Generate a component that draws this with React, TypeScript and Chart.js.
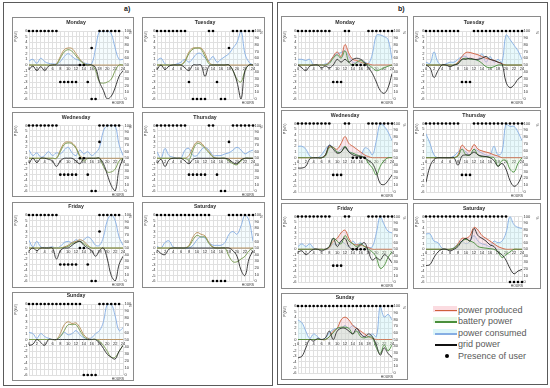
import React, { useEffect, useRef } from "react";
import { Chart, registerables } from "chart.js";
Chart.register(...registerables);

const FONT = '"Liberation Sans", Arial, sans-serif';
const HOURS = [0, 1, 2, 3, 4, 5, 6, 7, 8, 9, 10, 11, 12, 13, 14, 15, 16, 17, 18, 19, 20, 21, 22, 23, 24];
const X_LABEL_STEP = 2;
const P_TITLE = "P (kW)";
const SOC_TITLE = "%";
const LEGEND_LABELS = ["power produced", "battery power", "power consumed", "grid power", "Presence of user"];

// ---------- a) ----------
const A_MON_PROD = [0,0,0,0,0,0,0,0.2,1.5,2.7,3,2.9,2,1,0.3,0,0,0,0,0,0,0,0,0,0];
const A_MON_BATT = [0,0,0,0,0,0,0,0.1,1.2,2.3,2.7,2.4,1.6,0.8,0.2,0,0,-1,-3,-3.2,-3,-2.5,-1,0,0];
const A_MON_CONS = [0.7,1,0.3,1.2,0.6,0.3,0.2,0.2,0.6,1.5,2,1.5,1,0.8,0.4,0.2,0.2,3,6,6,6,5.5,3,1,1];
const A_MON_GRID = [-0.8,-0.2,-1,-0.3,-1,-0.2,0,0,0,0,0,0,0,0,0,0,0,-0.5,-3,-4.5,-6,-5.5,-4,-2,-1];
const A_MON_PRES = [0,1,2,3,4,5,6,7,18,19,20,21,22,23];
const A_MON_DOTS = [[16,3],[13,0],[14,0],[8,-3],[9,-3],[10,-3],[11,-3],[12,-3],[15,-3],[16,-6],[17,-6]];

const A_TUE_PROD = [0,0,0,0,0,0,0,0.8,2.3,3,3,3,2,0.5,0,0,0,0,0,0,0,0,0,0,0];
const A_TUE_BATT = [0,0,0,0,0,0,0,0.6,2,2.8,3,2.8,1.5,0.2,0,0,0,0,0,-1,-2.5,-3,-1,0,0];
const A_TUE_CONS = [0.8,1.2,0.2,0,0,0.2,0.5,1,0.5,1.2,2,2,1.2,0.8,1.5,0.5,1,1.5,2,3,4,6,2,0.5,0];
const A_TUE_GRID = [-0.8,0,-0.8,-0.2,0,0,0,-0.5,-1,0,0,0,-2,-0.2,0,0,0,0,0,-1,-3,-6,-1,0,0];
const A_TUE_PRES = [0,1,2,3,4,5,6,7,13,14,19,20,21,22,23,24];
const A_TUE_DOTS = [[18,3],[8,-3],[15,-3],[9,-6],[10,-6],[11,-6],[12,-6],[16,-6],[17,-6]];

const A_WED_PROD = [0,0,0,0,0,0,0,0,1.5,2.8,3,2.8,2,0.5,0,0,0,0,0,0,0,0,0,0,0];
const A_WED_BATT = [0,0,0,0,0,0,0,0,1.2,2.5,2.8,2.6,1.8,0.3,-0.5,0,0,0,0,-1.5,-2.5,-2.5,-2,-0.5,0];
const A_WED_CONS = [1.5,0.5,1,0.2,0.5,1.2,0.5,1,0.8,1.5,2,1,0.5,1.5,0.8,1.2,0.5,1,2,5,6,6,6,2.5,0.5];
const A_WED_GRID = [-1,0,-0.8,0,0,-0.2,-0.5,-1.5,-0.5,0,0,0,-0.5,-1,0,0,0,0,0,-1,-3,-5,-6,-2,0];
const A_WED_PRES = [0,1,2,3,4,5,6,7,18,19,20,21,22,23];
const A_WED_DOTS = [[18,3],[13,0],[14,0],[8,-3],[9,-3],[10,-3],[11,-3],[12,-3],[15,-3],[16,-6],[17,-6]];

const A_THU_PROD = [0,0,0,0,0,0,0,0,0.5,2,3,2.8,2,1.2,0.3,0,0,0,0,0,0,0,0,0,0];
const A_THU_BATT = [0,0,0,0,0,0,0,0,-0.3,1.5,2.7,2.5,1.8,1,0.2,0,0,0,-0.5,-1,-1.2,-0.5,0,0,0];
const A_THU_CONS = [1.2,0,1.8,0.5,0.2,0,0,1.5,1.8,0.5,0.5,1.5,2,1.5,0.5,0.5,0.5,0.8,1,1.5,2,1.5,0.8,1.2,1.5];
const A_THU_GRID = [-1,-0.2,-1.5,-0.3,0,0,0,-0.5,-1,-0.2,0,0,0,0,0,0,0,0,-0.2,-0.8,-1,-0.3,0,0,0];
const A_THU_PRES = [0,1,2,3,4,5,6,7,13,14,19,20,21,22,23,24];
const A_THU_DOTS = [[18,3],[8,-3],[9,-3],[10,-3],[11,-3],[12,-3],[15,-3],[16,-6],[17,-6]];

const A_FRI_PROD = [0,0,0,0,0,0,0,0,0,0.2,0.5,1,1.2,1.5,1.2,0.5,0,0,0,0,0,0,0,0,0];
const A_FRI_BATT = [0,0,0,0,0,0,0,0,0,0.1,0.3,0.8,1,1.2,0.8,0.3,0,0,0,0,0,0,0,0,0];
const A_FRI_CONS = [1.4,0.2,1.2,0.2,0.1,0.1,0.2,0,0.3,1,1.2,1,1.5,1.2,1.5,2,1.5,0.5,0.5,2,5,6,5,2,0.5];
const A_FRI_GRID = [-0.5,0,-0.5,0,0,0,0,-2,-0.5,0,0,0.5,1,1.2,0.5,0,-0.5,-1.5,-0.5,0,-2,-5,-6,-3,-1.5];
const A_FRI_PRES = [0,1,2,3,4,5,6,7,18,19,20,21,22,23];
const A_FRI_DOTS = [[18,3],[13,0],[14,0],[8,-3],[9,-3],[10,-3],[11,-3],[12,-3],[15,-3],[16,-6],[17,-6]];

const A_SAT_PROD = [0,0,0,0,0,0,0,0,0.5,2,2.8,2.5,2.2,1,0.2,0,0,0,0,0,0,0,0,0,0];
const A_SAT_BATT = [0,0,0,0,0,0,0,0,0.3,1.5,2.3,2,2,0.8,0.1,0,0,0,-1.5,-2.5,-2.5,-2,-1.5,-0.5,0];
const A_SAT_CONS = [0.3,0,1,1.3,0.2,0,0,0,0,0.5,1.5,2,1.8,1,0.5,0.5,0.5,1,2.5,3,2.5,4,6,5,1.2];
const A_SAT_GRID = [-0.3,-1,-1.2,-0.2,0,0,0,0,0,0,0,0,0,0,0,0,0,0,0,-0.5,-1.5,-4,-5,-2,-0.5];
const A_SAT_PRES = [0,1,2,3,4,5,6,7,8,9,10,11,12,13,18,19,20,21,22,23,24];
const A_SAT_DOTS = [[14,-6],[15,-6],[16,-6],[17,-6]];

const A_SUN_PROD = [0,0,0,0,0,0,0,0,1,2.5,3,2.7,2.8,2,0.8,0.2,0,0,0,0,0,0,0,0,0];
const A_SUN_BATT = [0,0,0,0,0,0,0,0,0.5,1.5,2.5,2.5,2.5,1.5,0.5,0,0,0,-0.3,-1,-2,-3,-3,-2,-1];
const A_SUN_CONS = [1.2,1,0.2,1,0.5,0.2,0,0,0.5,1.2,0.8,1,1.5,0.8,0.3,0.2,0.3,1,1.5,3,6,6,4,1.5,2];
const A_SUN_GRID = [-1,-0.8,0,-0.5,-1,0,0,0,0,0,0,0,0,0,0,0,0,0,-0.6,-1.5,-2.5,-3,-3.3,-2,-1];
const A_SUN_PRES = [0,1,2,3,4,5,6,7,8,9,10,11,12,13,18,19,20,21,22,23];
const A_SUN_DOTS = [[14,-6],[15,-6],[16,-6],[17,-6]];

// ---------- b) ----------
const B_MON_PROD = [0,0,0,0,0,0,0,0,0.5,1.5,2.3,1.5,3.6,2,1,0.8,0.5,0.3,0.2,0,0,0,0,0,0];
const B_MON_BATT = [0,0,0,0,0,0,0,0,0.3,1.2,1.8,1.2,2.5,0.5,0,0.5,0.8,0.3,0,-0.5,-1,-0.8,-0.5,-0.2,0];
const B_MON_CONS = [1,1,0.8,1,0,0,0,0.2,0.5,1.5,2,2.2,2.5,1.5,0.5,0.5,0.3,0.5,0.3,2,5.2,5.3,5,4.5,1];
const B_MON_GRID = [0,-0.5,-1,-0.2,0,0,-0.5,-0.2,-0.5,0,1,0.5,1,0.5,1,1.2,1,0.5,-0.5,-1.5,-3,-4.5,-5,-4,-1.5];
const B_MON_PRES = [0,1,2,3,4,5,6,7,8,12,13,18,19,20,21,22,23,24];
const B_MON_DOTS = [[14,0],[15,0],[16,0],[17,0],[9,-3],[10,-3],[11,-3]];

const B_TUE_PROD = [0,0,0,0,0,0,0,0,0.5,1.5,2.2,2.2,2,1.8,1.5,1.2,1,0.8,0.5,0.2,0,0,0,0,0];
const B_TUE_BATT = [0,0,0,0,0,0,0,0,0.3,1,1.2,1,1,0.8,0.3,-0.3,-0.5,-0.3,0,0,0,0,0,0,0];
const B_TUE_CONS = [0.5,0.3,2.3,0.5,0,0.2,0.5,0.5,1,1.5,1.5,1,1,0.8,2,0.5,1.5,0.5,1,0.5,5.3,4.5,3.5,2.5,1];
const B_TUE_GRID = [0,-0.5,-2.2,-1,0,0,-0.3,0,0.2,1,1,1.2,1,1,1.2,1.5,1,0.8,0.5,0.2,-3,-4,-3.5,-2.5,-2];
const B_TUE_PRES = [0,1,2,3,4,5,6,7,8,12,13,14,15,16,17,18,19,20,21,22,23,24];
const B_TUE_DOTS = [[9,-3],[10,-3],[11,-3]];

const B_WED_PROD = [0,0,0,0,0,0,0,0.5,2,1.8,1.5,2.5,3.7,2.5,2,1.5,1,0.5,0.2,0,0,0,0,0,0];
const B_WED_BATT = [0,0,0,0,0,0,0,0.3,1.8,1.8,1,1,2,1,0.8,0.5,0.3,0,-1,-1.8,-3,-1.5,-0.5,0,0];
const B_WED_CONS = [2,2,1.5,0.3,0,0,0.5,1.5,2.2,1.8,1,1.5,2,1.2,0.8,0.5,0.3,1.7,1.5,0.5,3,6,5.5,4.5,3];
const B_WED_GRID = [-1.8,-1.8,-1.5,-0.2,0,0,0,0.5,2.2,1.5,0.8,1,1.8,1,0.5,0.3,0.2,0,-0.5,-1,-2.5,-4.5,-4.7,-4,-3];
const B_WED_PRES = [0,1,2,3,4,5,6,7,8,12,13,18,19,20,21,22,23,24];
const B_WED_DOTS = [[14,0],[15,0],[16,0],[17,0],[9,-3],[10,-3],[11,-3]];

const B_THU_PROD = [0,0,0,0,0,0,0,0,0.5,2.2,1.5,1.2,2.3,1.5,1.2,1,0.8,0.5,0.3,0,0,0,0,0,0];
const B_THU_BATT = [0,0,0,0,0,0,0,0,0.3,1.5,0.5,0.5,1.5,0.5,0.2,0.2,0.1,0,-1.5,-0.5,-0.5,-2,-2.5,-1,0];
const B_THU_CONS = [4.2,2.5,0.5,0,0,0,0,0.3,1,1.5,1,0.5,1.5,1.2,0.8,0.5,0.5,2,0.5,1,6,5.5,5.5,4.5,3];
const B_THU_GRID = [-4.3,-1.5,-0.3,0,0,0,0,0,-1.3,0.3,0.5,0.5,1,0.5,0.3,0.2,0,-0.5,-1.5,-1,-2,-4,-5,-4.5,-3];
const B_THU_PRES = [0,1,2,3,4,5,6,7,8,12,13,14,15,16,17,18,19,20,21,22,23,24];
const B_THU_DOTS = [[9,-3],[10,-3],[11,-3]];

const B_FRI_PROD = [0,0,0,0,0,0,0,0,0.3,1.5,2,3,3.5,2,1,0.8,0.8,0.5,0.3,0,0,0,0,0,0];
const B_FRI_BATT = [0,0,0,0,0,0,0,0,0.5,2,1.5,1,2.5,1.5,1,0.5,1,0.5,0,-0.5,-1.5,-3.5,-3,-1.5,-0.5];
const B_FRI_CONS = [0.5,1,0.5,1,0.2,0,0,0,0.2,1,0.8,1.5,1,0.5,1.5,0.8,1.2,0.5,0.3,0.5,3,6,4.5,3.3,3];
const B_FRI_GRID = [-0.5,-0.3,-1,-0.5,0,0,-0.3,0,0.5,2,0.5,1.5,2,0.5,0,0.2,0.8,1.2,-0.5,-2,-1.5,-2,-1,-1.5,-2.5];
const B_FRI_PRES = [0,1,2,3,4,5,6,7,8,12,13,18,19,20,21,22,23,24];
const B_FRI_DOTS = [[14,0],[15,0],[16,0],[17,0],[9,-3],[10,-3],[11,-3]];

const B_SAT_PROD = [0,0,0,0,0,0,0,0.2,1,2,2,2.5,4,3.5,2.5,2,1.5,1,0.5,0.2,0,0,0,0,0];
const B_SAT_BATT = [0,0,0,0,0,0,0,0.2,0.8,1.5,1.8,1.5,1.2,0.5,0.3,0.2,0.1,0,-0.5,-1.5,-1,-0.5,0,0,0];
const B_SAT_CONS = [2.8,2.8,1.5,1.2,0.2,0,0,0.3,1,1.5,1,1.5,2.5,1.5,1,0.8,0.5,1.5,1.2,1.5,3,6,4.5,4,3.8];
const B_SAT_GRID = [-3,-2.8,-1.5,-0.5,0,0,-0.3,0,0.5,1.5,2,1.5,3.8,2.5,2,1.5,0.8,0.5,-0.5,-1,-2,-3.5,-4.5,-4,-3.7];
const B_SAT_PRES = [0,1,2,3,4,5,6,7,8,9,10,11,12,13,14,15,16,17,18,19,20];
const B_SAT_DOTS = [[21,-6],[22,-6],[23,-6],[24,-6]];

const B_SUN_PROD = [0,0,0,0,0,0,0,0,0.5,1.5,2,3.5,4,3.5,2.5,2,1.5,1,0.5,0.2,0,0,0,0,0];
const B_SUN_BATT = [0,0,0,0,0,0,0,0,0.5,1.2,2,2.2,2.2,2,1,1.5,0.5,0.3,0.5,0.3,-1.5,-2.5,-1,-2,-1];
const B_SUN_CONS = [3.5,3,1.5,0.2,1,0.5,0,0.3,1.2,1.8,2,2,2.5,2,2.5,2,1,0.5,0.5,1,0.5,6,4,4.5,3.5];
const B_SUN_GRID = [-3.3,-3,-1.5,0,-0.3,0.2,0,0.3,1.5,0,1.5,2,2,1.5,1,2,1,0.5,1,0.5,-1,-2.8,-1.5,-2.5,-3.2];
const B_SUN_PRES = [0,1,2,3,4,5,6,7,8,9,10,11,12,13,14,15,16,17,18,19,20,21,22,23,24];
const B_SUN_DOTS: number[][] = [];

// ---------- styles / layout ----------
const COLORS = {
  prodA: "#b58d55",
  battA: "#74994c",
  prodB: "#cf5f3c",
  battB: "#4a8f3c",
  cons: "#86aee3",
  grid: "#2a2a2a",
  prodFill: "rgba(247,185,195,0.32)",
  battFill: "rgba(200,240,200,0.25)",
  consFill: "rgba(185,236,246,0.32)",
  consFillA: "rgba(190,238,246,0.16)",
  gridLine: "#e0e0e0",
};

const A_COLS = [{ x: 12, w: 122, px0: 29, px1: 123 }, { x: 142, w: 123, px0: 157, px1: 253 }];
const A_ROWS = [
  { y: 17, h: 91, py0: 31, py1: 99 },
  { y: 112, h: 85, py0: 125.5, py1: 191 },
  { y: 202, h: 86, py0: 215, py1: 281 },
  { y: 292, h: 89, py0: 304, py1: 375 },
];
const B_COLS = [{ x: 281, w: 127, px0: 298, px1: 392 }, { x: 413, w: 128, px0: 426, px1: 522 }];
const B_ROWS = [
  { y: 16, h: 92, py0: 31, py1: 99 },
  { y: 110, h: 90, py0: 123.5, py1: 192 },
  { y: 203, h: 86, py0: 216.5, py1: 282 },
  { y: 293, h: 87, py0: 306, py1: 373 },
];

type Spec = {
  id: string; title: string; panel: "a" | "b";
  prod: number[]; batt: number[]; cons: number[]; grid: number[]; pres: number[]; dots: number[][];
  col: { x: number; w: number; px0: number; px1: number };
  row: { y: number; h: number; py0: number; py1: number };
};

const SPECS: Spec[] = [
  { id: "am", title: "Monday", panel: "a", prod: A_MON_PROD, batt: A_MON_BATT, cons: A_MON_CONS, grid: A_MON_GRID, pres: A_MON_PRES, dots: A_MON_DOTS, col: A_COLS[0], row: A_ROWS[0] },
  { id: "at", title: "Tuesday", panel: "a", prod: A_TUE_PROD, batt: A_TUE_BATT, cons: A_TUE_CONS, grid: A_TUE_GRID, pres: A_TUE_PRES, dots: A_TUE_DOTS, col: A_COLS[1], row: A_ROWS[0] },
  { id: "aw", title: "Wednesday", panel: "a", prod: A_WED_PROD, batt: A_WED_BATT, cons: A_WED_CONS, grid: A_WED_GRID, pres: A_WED_PRES, dots: A_WED_DOTS, col: A_COLS[0], row: A_ROWS[1] },
  { id: "ah", title: "Thursday", panel: "a", prod: A_THU_PROD, batt: A_THU_BATT, cons: A_THU_CONS, grid: A_THU_GRID, pres: A_THU_PRES, dots: A_THU_DOTS, col: A_COLS[1], row: A_ROWS[1] },
  { id: "af", title: "Friday", panel: "a", prod: A_FRI_PROD, batt: A_FRI_BATT, cons: A_FRI_CONS, grid: A_FRI_GRID, pres: A_FRI_PRES, dots: A_FRI_DOTS, col: A_COLS[0], row: A_ROWS[2] },
  { id: "as", title: "Saturday", panel: "a", prod: A_SAT_PROD, batt: A_SAT_BATT, cons: A_SAT_CONS, grid: A_SAT_GRID, pres: A_SAT_PRES, dots: A_SAT_DOTS, col: A_COLS[1], row: A_ROWS[2] },
  { id: "au", title: "Sunday", panel: "a", prod: A_SUN_PROD, batt: A_SUN_BATT, cons: A_SUN_CONS, grid: A_SUN_GRID, pres: A_SUN_PRES, dots: A_SUN_DOTS, col: A_COLS[0], row: A_ROWS[3] },
  { id: "bm", title: "Monday", panel: "b", prod: B_MON_PROD, batt: B_MON_BATT, cons: B_MON_CONS, grid: B_MON_GRID, pres: B_MON_PRES, dots: B_MON_DOTS, col: B_COLS[0], row: B_ROWS[0] },
  { id: "bt", title: "Tuesday", panel: "b", prod: B_TUE_PROD, batt: B_TUE_BATT, cons: B_TUE_CONS, grid: B_TUE_GRID, pres: B_TUE_PRES, dots: B_TUE_DOTS, col: B_COLS[1], row: B_ROWS[0] },
  { id: "bw", title: "Wednesday", panel: "b", prod: B_WED_PROD, batt: B_WED_BATT, cons: B_WED_CONS, grid: B_WED_GRID, pres: B_WED_PRES, dots: B_WED_DOTS, col: B_COLS[0], row: B_ROWS[1] },
  { id: "bh", title: "Thursday", panel: "b", prod: B_THU_PROD, batt: B_THU_BATT, cons: B_THU_CONS, grid: B_THU_GRID, pres: B_THU_PRES, dots: B_THU_DOTS, col: B_COLS[1], row: B_ROWS[1] },
  { id: "bf", title: "Friday", panel: "b", prod: B_FRI_PROD, batt: B_FRI_BATT, cons: B_FRI_CONS, grid: B_FRI_GRID, pres: B_FRI_PRES, dots: B_FRI_DOTS, col: B_COLS[0], row: B_ROWS[2] },
  { id: "bs", title: "Saturday", panel: "b", prod: B_SAT_PROD, batt: B_SAT_BATT, cons: B_SAT_CONS, grid: B_SAT_GRID, pres: B_SAT_PRES, dots: B_SAT_DOTS, col: B_COLS[1], row: B_ROWS[2] },
  { id: "bu", title: "Sunday", panel: "b", prod: B_SUN_PROD, batt: B_SUN_BATT, cons: B_SUN_CONS, grid: B_SUN_GRID, pres: B_SUN_PRES, dots: B_SUN_DOTS, col: B_COLS[0], row: B_ROWS[3] },
];

const decorPlugin = {
  id: "decor",
  afterDraw(chart: any, _args: any, opts: any) {
    const { ctx, chartArea } = chart;
    ctx.save();
    ctx.fillStyle = "#2b2b2b";
    ctx.font = `bold 5.2px ${FONT}`;
    ctx.textAlign = "center";
    ctx.textBaseline = "middle";
    ctx.fillText(opts.title, (chartArea.left + chartArea.right) / 2, chartArea.top - 8);
    ctx.font = `3.4px ${FONT}`;
    ctx.fillStyle = "#333";
    ctx.textAlign = "right";
    ctx.fillText("HOURS", chartArea.right + 1, chartArea.bottom + 4.5);
    ctx.restore();
  },
};

function DayChart({ spec }: { spec: Spec }) {
  const ref = useRef<HTMLCanvasElement>(null);
  const { col, row } = spec;
  const cx = col.x + 1, cy = row.y + 1;
  const cw = col.w - 2, ch = row.h - 2;
  useEffect(() => {
    const padL = 1, padR = 1;
    const inL = col.px0 - cx;
    const inR = cx + cw - col.px1;
    const inT = row.py0 - cy;
    const inB = cy + ch - row.py1;
    const pts = (vals: number[]) => HOURS.map((h, i) => ({ x: h, y: vals[i] }));
    const isB = spec.panel === "b";
    const tick = { size: 4, family: FONT };
    const datasets: any[] = [
      { type: "scatter", data: spec.pres.map((h) => ({ x: h, y: 6 })), pointRadius: 1.35, backgroundColor: "#000", borderWidth: 0, clip: false, order: 0 },
      { type: "scatter", data: spec.dots.map((d) => ({ x: d[0], y: d[1] })), pointRadius: 1.35, backgroundColor: "#000", borderWidth: 0, clip: false, order: 0 },
      { data: pts(spec.grid), borderColor: COLORS.grid, borderWidth: 0.9, fill: false, order: 1 },
      { data: pts(spec.batt), borderColor: isB ? COLORS.battB : COLORS.battA, backgroundColor: COLORS.battFill, fill: isB ? "origin" : false, borderWidth: 0.9, order: 2 },
      { data: pts(spec.prod), borderColor: isB ? COLORS.prodB : COLORS.prodA, backgroundColor: COLORS.prodFill, fill: isB ? "origin" : false, borderWidth: 0.9, order: 3 },
      { data: pts(spec.cons), borderColor: COLORS.cons, backgroundColor: isB ? COLORS.consFill : COLORS.consFillA, fill: "origin", borderWidth: 0.9, order: 4 },
    ];
    const chart = new Chart(ref.current as HTMLCanvasElement, {
      type: "line",
      data: { datasets },
      options: {
        responsive: false,
        animation: false,
        devicePixelRatio: 1,
        layout: { padding: { left: padL, right: padR, top: inT, bottom: inB } },
        elements: { point: { radius: 0 }, line: { borderWidth: 1, tension: 0.4 } },
        plugins: { legend: { display: false }, tooltip: { enabled: false }, decor: { title: spec.title } } as any,
        scales: {
          x: {
            type: "linear", min: 0, max: 24, position: { y: 0 } as any,
            ticks: { stepSize: 1, maxTicksLimit: 30, autoSkip: false, maxRotation: 0, padding: 1.5, font: tick, color: "#333",
              callback: (v: any) => (Number(v) % X_LABEL_STEP === 0 ? String(v) : "") },
            grid: { color: COLORS.gridLine, drawTicks: false },
            border: { display: true, color: "#c4c4c4" },
          },
          y: {
            type: "linear", position: "left", min: -6, max: 6,
            afterFit: (s: any) => { s.width = inL - padL; },
            ticks: { stepSize: 1, autoSkip: false, padding: 1.5, font: tick, color: "#333" },
            grid: { color: COLORS.gridLine, drawTicks: false },
            border: { display: false },
            title: { display: true, text: P_TITLE, align: "end", padding: 0, font: { size: 3.5, family: FONT }, color: "#333" },
          },
          y2: {
            type: "linear", position: "right", min: 0, max: 100,
            afterFit: (s: any) => { s.width = inR - padR; },
            ticks: { stepSize: 10, autoSkip: false, padding: 1.5, font: tick, color: "#333" },
            grid: { drawOnChartArea: false, drawTicks: false },
            border: { display: false },
            title: { display: true, text: SOC_TITLE, align: "end", padding: 0, font: { size: 3.5, family: FONT }, color: "#333" },
          },
        },
      } as any,
      plugins: [decorPlugin as any],
    });
    return () => chart.destroy();
  }, []);
  return (
    <>
      <div style={{ position: "absolute", left: col.x, top: row.y, width: col.w, height: row.h, border: "1px solid #8a8a8a", boxSizing: "border-box", background: "#fff" }} />
      <canvas ref={ref} width={cw} height={ch} style={{ position: "absolute", left: cx, top: cy, width: cw, height: ch }} />
    </>
  );
}

function Legend() {
  const rows = [
    { label: LEGEND_LABELS[0], color: COLORS.prodB, fill: "rgba(247,185,195,0.5)", y: 309.5 },
    { label: LEGEND_LABELS[1], color: COLORS.battB, fill: "rgba(200,240,200,0.45)", y: 321.2 },
    { label: LEGEND_LABELS[2], color: COLORS.cons, fill: "rgba(185,236,246,0.5)", y: 333 },
    { label: LEGEND_LABELS[3], color: "#111", fill: "transparent", y: 344 },
  ];
  const text = { position: "absolute" as const, left: 458, fontSize: 9, fontFamily: FONT, color: "#5a5a5a", lineHeight: "10px", whiteSpace: "nowrap" as const };
  return (
    <>
      {rows.map((r) => (
        <React.Fragment key={r.label}>
          <div style={{ position: "absolute", left: 433, top: r.y - 4, width: 24, height: 6, background: r.fill }} />
          <div style={{ position: "absolute", left: 435, top: r.y, width: 22, height: 1.5, background: r.color }} />
          <div style={{ ...text, top: r.y - 5 }}>{r.label}</div>
        </React.Fragment>
      ))}
      <div style={{ position: "absolute", left: 444.7, top: 354, width: 4, height: 4, borderRadius: 2, background: "#000" }} />
      <div style={{ ...text, top: 351 }}>{LEGEND_LABELS[4]}</div>
    </>
  );
}

export default function App() {
  return (
    <div style={{ position: "absolute", left: 0, top: 0, width: 550, height: 388, background: "#fff", overflow: "hidden", fontFamily: FONT }}>
      <div style={{ position: "absolute", left: 3, top: 2, width: 270, height: 384, border: "1px solid #5a5a5a", boxSizing: "border-box" }} />
      <div style={{ position: "absolute", left: 277, top: 2, width: 271, height: 383, border: "1px solid #5a5a5a", boxSizing: "border-box" }} />
      <div style={{ position: "absolute", left: 124, top: 5, fontSize: 7, fontWeight: "bold", color: "#222" }}>a)</div>
      <div style={{ position: "absolute", left: 398, top: 5, fontSize: 7, fontWeight: "bold", color: "#222" }}>b)</div>
      {SPECS.map((s) => (
        <DayChart key={s.id} spec={s} />
      ))}
      <Legend />
    </div>
  );
}
